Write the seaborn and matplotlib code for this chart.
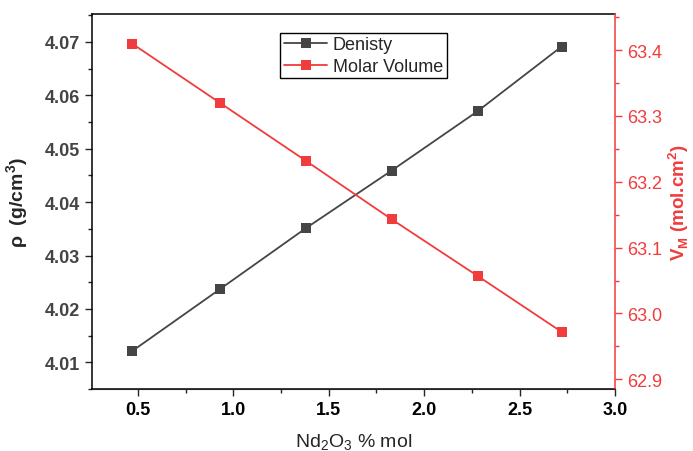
import numpy as np
import pandas as pd
import matplotlib.pyplot as plt
import seaborn as sns
from matplotlib.ticker import MultipleLocator

# data
nd2o3 = [0.47, 0.93, 1.38, 1.83, 2.28, 2.72]
density = [4.0121, 4.0237, 4.0351, 4.0459, 4.0570, 4.0691]
molar_volume = [63.410, 63.320, 63.232, 63.143, 63.057, 62.972]

df = pd.DataFrame({'Nd2O3': nd2o3, 'Denisty': density, 'Molar Volume': molar_volume})

sns.set_style("ticks")
plt.rcParams['font.family'] = ['Liberation Sans', 'DejaVu Sans']
plt.rcParams['mathtext.fontset'] = 'custom'
plt.rcParams['mathtext.rm'] = 'Liberation Sans'
plt.rcParams['mathtext.bf'] = 'Liberation Sans:bold'

gray = '#454545'
red = '#f03c3c'

fig = plt.figure(figsize=(6.93, 4.52), dpi=100)
ax = fig.add_axes([0.1328, 0.137, 0.7546, 0.8298])
ax2 = ax.twinx()

sns.lineplot(data=df, x='Nd2O3', y='Denisty', ax=ax, color=gray, marker='s',
             markersize=7, markeredgewidth=0, linewidth=1.3, label='Denisty', legend=False)
sns.lineplot(data=df, x='Nd2O3', y='Molar Volume', ax=ax2, color=red, marker='s',
             markersize=7, markeredgewidth=0, linewidth=1.3, label='Molar Volume', legend=False)

ax.set_xlim(0.26, 3.0)
ax.set_ylim(4.005, 4.0752)
ax2.set_ylim(62.885, 63.455)

ax.xaxis.set_major_locator(MultipleLocator(0.5))
ax.xaxis.set_minor_locator(MultipleLocator(0.25))
ax.yaxis.set_major_locator(MultipleLocator(0.01))
ax.yaxis.set_minor_locator(MultipleLocator(0.005))
ax2.yaxis.set_major_locator(MultipleLocator(0.1))
ax2.yaxis.set_minor_locator(MultipleLocator(0.05))
ax.yaxis.set_major_formatter(plt.FormatStrFormatter('%.2f'))
ax2.yaxis.set_major_formatter(plt.FormatStrFormatter('%.1f'))

for s in ['left', 'bottom', 'top']:
    ax.spines[s].set_visible(True)
    ax.spines[s].set_color('black')
    ax.spines[s].set_linewidth(1.1)
ax2.spines['right'].set_visible(True)
ax2.spines['right'].set_color(red)
ax2.spines['right'].set_linewidth(1.1)
ax2.spines['top'].set_visible(False)
ax2.spines['left'].set_visible(False)
ax.spines['right'].set_visible(False)

ax.tick_params(axis='both', which='major', direction='out', length=5, width=1, top=False, right=False)
ax.tick_params(axis='both', which='minor', direction='out', length=3, width=1, top=False, right=False)
ax.tick_params(axis='x', labelsize=13, labelcolor='black')
ax.tick_params(axis='y', labelsize=13, labelcolor='#444444')
for lab in ax.get_xticklabels() + ax.get_yticklabels():
    lab.set_fontweight('bold')

ax2.tick_params(axis='y', which='major', direction='out', length=5, width=1, colors=red, labelsize=13)
ax2.tick_params(axis='y', which='minor', direction='out', length=3, width=1, colors=red)

ax.set_xlabel(r'Nd$_2$O$_3$ % mol', fontsize=14, labelpad=10)
ax.set_ylabel(r'$\mathbf{\rho}$  (g/cm$^\mathbf{3}$)', fontsize=14, fontweight='bold', labelpad=10)
ax2.set_ylabel(r'V$_\mathbf{M}$ (mol.cm$^\mathbf{2}$)', fontsize=13.5, fontweight='bold', color=red, labelpad=3)

h1, l1 = ax.get_legend_handles_labels()
h2, l2 = ax2.get_legend_handles_labels()
leg = ax.legend(h1 + h2, l1 + l2, loc='upper left', bbox_to_anchor=(0.36, 0.95),
                fontsize=13, frameon=True, fancybox=False, framealpha=1,
                edgecolor='black', borderpad=0.2, labelspacing=0.25,
                handlelength=2.4, handletextpad=0.3, borderaxespad=0)
leg.get_frame().set_linewidth(1.0)

fig.savefig('out.png', dpi=100)
